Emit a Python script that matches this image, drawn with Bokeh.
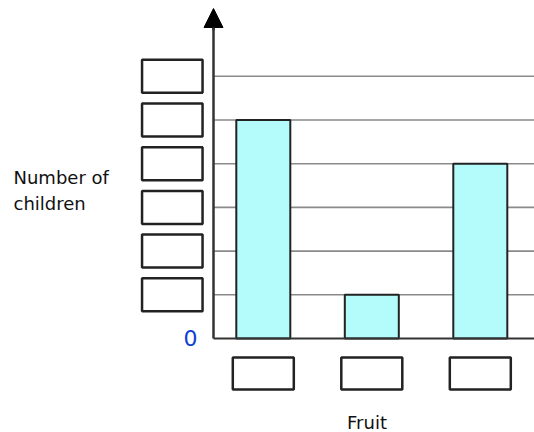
from bokeh.plotting import figure
from bokeh.models import Range1d, Arrow, NormalHead, Label
from bokeh.embed import file_html
from bokeh.resources import INLINE

# Data
categories = ["Fruit 1", "Fruit 2", "Fruit 3"]
counts = [5, 1, 4]
tick_values = [1, 2, 3, 4, 5, 6]

W, H = 534, 432
OFF = 0        # page offset of the figure
PX_X = 108.5   # pixels per category step
PX_Y = 43.7    # pixels per unit of count
ymax = (338 - OFF) / PX_Y
ymin = ymax - H / PX_Y
xmin = -(262.8 - OFF) / PX_X
xmax = xmin + W / PX_X

def px_x(page_x):
    return (page_x - OFF) / PX_X + xmin

def px_y(page_y):
    return ymax - (page_y - OFF) / PX_Y

p = figure(width=W, height=H, output_backend="svg", toolbar_location=None,
           x_range=Range1d(xmin, xmax), y_range=Range1d(ymin, ymax),
           min_border=0)
p.axis.visible = False
p.grid.visible = False
p.outline_line_color = None
p.background_fill_color = "white"
p.border_fill_color = "white"

xpos = list(range(len(categories)))
axis_x = px_x(213)

# grid lines
p.segment(x0=[axis_x] * len(tick_values), x1=[xmax + 1] * len(tick_values),
          y0=tick_values, y1=tick_values, line_color="#8a8a8a", line_width=1.6)

# bars
p.vbar(x=xpos, top=counts, bottom=0, width=54 / PX_X,
       fill_color="#b4fbfb", line_color="#222222", line_width=2)

# baseline
p.segment(x0=[axis_x], x1=[xmax + 1], y0=[0], y1=[0],
          line_color="#333333", line_width=2)

# y axis with arrow
p.segment(x0=[axis_x], x1=[axis_x], y0=[0], y1=[px_y(26)],
          line_color="#333333", line_width=2.5)
p.add_layout(Arrow(end=NormalHead(size=19, fill_color="black", line_color="black"),
                   x_start=axis_x, y_start=px_y(30), x_end=axis_x, y_end=px_y(8),
                   line_color="#333333", line_width=2.5))

# empty tick boxes on the left
box_x = px_x(171.8)
p.rect(x=[box_x] * len(tick_values), y=tick_values, width=60.5 / PX_X,
       height=33 / PX_Y, fill_color="white", line_color="#222222", line_width=2.5)

# empty category boxes
p.rect(x=xpos, y=[px_y(373)] * len(categories), width=61 / PX_X,
       height=32 / PX_Y, fill_color="white", line_color="#222222", line_width=2.5)

# zero label
p.add_layout(Label(x=px_x(190), y=px_y(337), text="0", text_color="#0d3fd4",
                   text_font="DejaVu Sans", text_font_size="22px",
                   text_align="center", text_baseline="middle"))

# axis titles
p.add_layout(Label(x=px_x(13), y=px_y(177), text="Number of", text_color="#111111",
                   text_font="DejaVu Sans", text_font_size="18px",
                   text_align="left", text_baseline="middle"))
p.add_layout(Label(x=px_x(13), y=px_y(203), text="children", text_color="#111111",
                   text_font="DejaVu Sans", text_font_size="18px",
                   text_align="left", text_baseline="middle"))
p.add_layout(Label(x=px_x(366.5), y=px_y(421.5), text="Fruit", text_color="#111111",
                   text_font="DejaVu Sans", text_font_size="18px",
                   text_align="center", text_baseline="middle"))

open("out.html", "w").write(file_html(p, INLINE))
